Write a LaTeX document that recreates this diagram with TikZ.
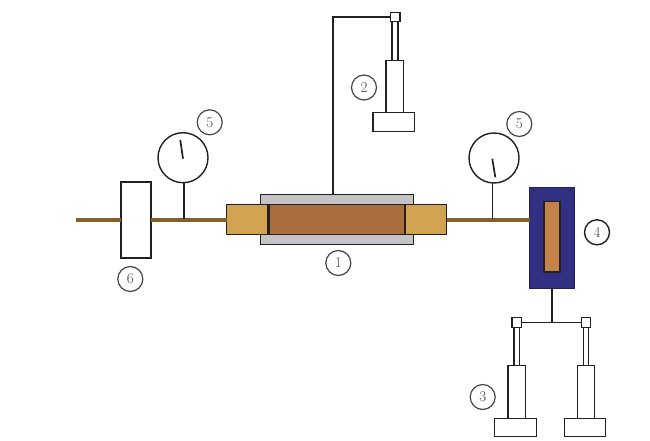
\documentclass[tikz,border=0pt]{standalone}
\definecolor{pipe}{RGB}{134,96,44}
\definecolor{capcol}{RGB}{209,163,80}
\definecolor{corecol}{RGB}{168,110,62}
\definecolor{shell}{RGB}{198,195,200}
\definecolor{navy}{RGB}{50,48,130}
\definecolor{inner}{RGB}{196,130,72}
\definecolor{ink}{RGB}{35,32,32}
\definecolor{labelcol}{RGB}{70,70,70}
\tikzset{
  x=1pt,y=-1pt,
  rect/.style={draw=ink,line width=1.4pt,inner sep=0pt,outer sep=0pt,fill=white},
  pipeline/.style={draw=pipe,line width=3.8pt},
  wire/.style={draw=ink,line width=1.7pt},
  gauge/.style={circle,draw=ink,line width=1.4pt,fill=white,minimum size=50pt,inner sep=0pt,outer sep=0pt},
  tag/.style={circle,draw=labelcol,line width=1.2pt,fill=white,minimum size=25pt,inner sep=0pt,text=labelcol,font=\fontsize{15}{15}\selectfont},
}
\newcommand{\rectnode}[7][]{% style, name, x1,y1,x2,y2, text
  \pgfmathsetmacro{\rcx}{(#3+#5)/2}\pgfmathsetmacro{\rcy}{(#4+#6)/2}%
  \pgfmathsetmacro{\rw}{#5-#3}\pgfmathsetmacro{\rh}{#6-#4}%
  \node[rect,#1,minimum width=\rw pt,minimum height=\rh pt] (#2) at (\rcx,\rcy) {#7};}
\begin{document}
\begin{tikzpicture}
\useasboundingbox (0,0) rectangle (650,441);
% core cell
\rectnode[fill=shell]{shell}{260.3}{194.3}{413.7}{244.7}{}
\rectnode[fill=corecol,line width=1.5pt]{core}{268.3}{204.3}{405}{234.3}{}
\rectnode[fill=capcol,line width=1.5pt]{capL}{226.7}{204.3}{268.3}{234.3}{}
\rectnode[fill=capcol,line width=1.5pt]{capR}{405}{204.3}{446.7}{234.3}{}
\draw[draw=ink,line width=2.6pt] (core.north west) -- (core.south west);
\draw[draw=ink,line width=2.6pt] (core.north east) -- (core.south east);
% other bodies
\rectnode{valve}{121}{182}{151}{258}{}
\rectnode[fill=navy,draw=navy!70!black,line width=1pt]{trap}{529.7}{187}{574.7}{288}{}
\rectnode[fill=inner,line width=1.4pt]{trapcore}{544}{201.3}{560}{272}{}
% pipeline
\coordinate (inlet) at (76,220.2);
\draw[pipeline] (inlet) -- (valve.west |- inlet);
\draw[pipeline] (valve.east |- inlet) -- (capL.west |- inlet);
\draw[pipeline] (capR.east |- inlet) -- (trap.west |- inlet);
% gauges
\coordinate (tapL) at (183.8,219);
\coordinate (tapR) at (492.5,219);
\node[gauge] (gaugeL) at (183,157.7) {};
\node[gauge] (gaugeR) at (494,158) {};
\draw[wire] (tapL |- gaugeL.south) -- (tapL);
\draw[wire] (tapR |- gaugeR.south) -- (tapR);
\draw[wire] ([shift={(-2.7,-17.7)}]gaugeL.center) -- ([shift={(0,1)}]gaugeL.center);
\draw[wire] ([shift={(-1.7,0.7)}]gaugeR.center) -- ([shift={(1.3,19.3)}]gaugeR.center);
% pump 2
\rectnode{rodB}{392}{21.3}{398}{60.5}{}
\rectnode{cylB}{386}{60.5}{403.5}{112.7}{}
\rectnode{baseB}{373}{112.7}{414.5}{131.3}{}
\rectnode{headB}{390.5}{12.7}{400}{21.3}{}
\coordinate (shellTap) at (333,194.3);
\draw[wire,line width=2pt] (headB.west) -| (shellTap);
% pumps 3
\rectnode{rodL}{514}{327.3}{519.3}{365.3}{}
\rectnode{cylL}{508}{365.3}{525.3}{418.3}{}
\rectnode{baseL}{494.7}{418.3}{536.3}{436.7}{}
\rectnode{headL}{512}{317.7}{521.7}{327.3}{}
\rectnode{rodR}{583.3}{327.3}{588.7}{365.3}{}
\rectnode{cylR}{577.3}{365.3}{594.7}{418.3}{}
\rectnode{baseR}{564.3}{418.3}{605.7}{436.7}{}
\rectnode{headR}{581.3}{317.7}{590.7}{327.3}{}
\coordinate (fork) at (552.3,322.5);
\draw[wire] (headL.east) -- (headR.west);
\draw[wire] (fork |- trap.south) -- (fork);
% labels
\node[tag] (t1) at (338.3,263) {1};
\node[tag] (t2) at (364,87.5) {2};
\node[tag] (t3) at (482.7,397) {3};
\node[tag,draw=ink,line width=1.4pt] (t4) at (597,232.3) {4};
\node[tag] (t5a) at (209.7,122.3) {5};
\node[tag] (t5b) at (519.3,124) {5};
\node[tag] (t6) at (130.3,279) {6};
\end{tikzpicture}
\end{document}
